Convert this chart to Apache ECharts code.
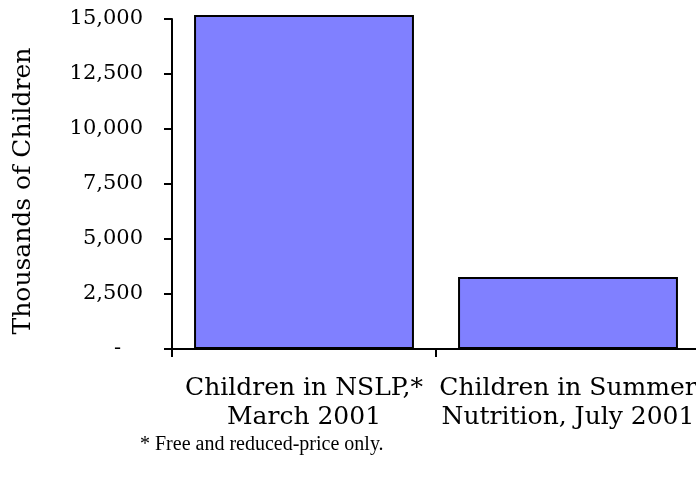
<!DOCTYPE html>
<html>
<head>
<meta charset="utf-8">
<script src="https://cdn.jsdelivr.net/npm/echarts@6/dist/echarts.min.js"></script>
<style>
  html, body { margin: 0; padding: 0; background: #fff; }
  #chart { width: 696px; height: 486px; }
</style>
</head>
<body>
<div id="chart"></div>
<script>
// Participation counts, thousands of children
const categories = ['Children in NSLP,*\nMarch 2001', 'Children in Summer\nNutrition, July 2001'];
const children = [15180, 3270];
const yTicks = { min: 0, max: 15000, step: 2500 };
const axisTitle = 'Thousands of Children';
const footnote = '* Free and reduced-price only.';

const serif = 'DejaVu Serif';
const chart = echarts.init(document.getElementById('chart'), null, { renderer: 'canvas' });

chart.setOption({
  animation: false,
  backgroundColor: '#ffffff',
  title: {
    text: footnote,
    left: 140,
    top: 435,
    padding: 0,
    textStyle: { fontFamily: 'Liberation Serif', fontSize: 20, fontWeight: 'normal', color: '#000' }
  },
  // the plot runs past the right edge; keep the grid where it is instead of fitting labels
  grid: { left: 172, top: 19, width: 528, height: 330, containLabel: false, outerBoundsMode: 'none' },
  xAxis: {
    type: 'category',
    data: categories,
    axisLine: { lineStyle: { color: '#000', width: 2 } },
    axisTick: { show: true, length: 8, lineStyle: { color: '#000', width: 2 } },
    axisLabel: {
      interval: 0,
      margin: 25,
      fontFamily: serif,
      fontSize: 25,
      lineHeight: 29,
      color: '#000'
    }
  },
  yAxis: {
    type: 'value',
    min: yTicks.min,
    max: yTicks.max,
    interval: yTicks.step,
    name: axisTitle,
    nameLocation: 'middle',
    nameRotate: 90,
    nameGap: 136,
    nameTextStyle: { fontFamily: serif, fontSize: 25, color: '#000', padding: [0, 14, 0, 0] },
    axisLine: { show: true, lineStyle: { color: '#000', width: 2 } },
    axisTick: { show: true, length: 8, lineStyle: { color: '#000', width: 2 } },
    splitLine: { show: false },
    axisLabel: {
      margin: 29,
      fontFamily: serif,
      fontSize: 21,
      color: '#000',
      formatter: v => v === 0 ? '{dash|-}' : v.toLocaleString('en-US'),
      rich: {
        dash: { fontFamily: serif, fontSize: 21, color: '#000', padding: [0, 22, 0, 0] }
      }
    }
  },
  series: [{
    type: 'bar',
    data: children,
    clip: false,
    barCategoryGap: '16.7%',
    itemStyle: { color: '#8080FF', borderColor: '#000', borderWidth: 2 }
  }]
});
</script>
</body>
</html>
